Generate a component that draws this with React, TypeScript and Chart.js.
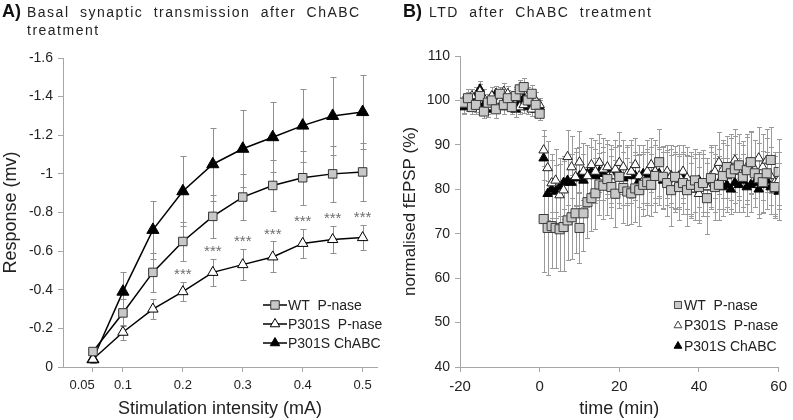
import React, { useEffect, useRef } from 'react';
import { Chart, registerables } from 'chart.js';

Chart.register(...registerables);

// ---------- Panel A data ----------
const A_INTENSITY = [0.05, 0.1, 0.15, 0.2, 0.25, 0.3, 0.35, 0.4, 0.45, 0.5];
const A_WT_PNASE = [-0.08, -0.28, -0.49, -0.65, -0.78, -0.88, -0.94, -0.98, -1.0, -1.01];
const A_WT_PNASE_ERR = [0.02, 0.07, 0.1, 0.1, 0.11, 0.12, 0.13, 0.14, 0.145, 0.15];
const A_P301S_PNASE = [-0.04, -0.18, -0.3, -0.39, -0.49, -0.53, -0.57, -0.64, -0.66, -0.67];
const A_P301S_PNASE_ERR = [0.02, 0.04, 0.05, 0.05, 0.07, 0.08, 0.08, 0.075, 0.07, 0.065];
const A_P301S_CHABC = [-0.04, -0.39, -0.71, -0.91, -1.05, -1.13, -1.19, -1.25, -1.3, -1.32];
const A_P301S_CHABC_ERR = [0.02, 0.1, 0.15, 0.18, 0.19, 0.2, 0.18, 0.19, 0.2, 0.19];
const A_STAR_X = [0.2, 0.25, 0.3, 0.35, 0.4, 0.45, 0.5];
const A_X_TICKS = [0.05, 0.1, 0.2, 0.3, 0.4, 0.5];
const A_X_TICK_LABELS = ['0.05', '0.1', '0.2', '0.3', '0.4', '0.5'];

// ---------- Panel B data ----------
const B_TIME = [
  -19, -18, -17, -16, -15, -14, -13, -12, -11, -10, -9, -8, -7, -6, -5, -4, -3, -2, -1, 0,
  1, 2, 3, 4, 5, 6, 7, 8, 9, 10, 11, 12, 13, 14, 15, 16, 17, 18, 19, 20,
  21, 22, 23, 24, 25, 26, 27, 28, 29, 30, 31, 32, 33, 34, 35, 36, 37, 38, 39, 40,
  41, 42, 43, 44, 45, 46, 47, 48, 49, 50, 51, 52, 53, 54, 55, 56, 57, 58, 59, 60,
];
const B_WT_PNASE = [
  99.5, 100.5, 98.5, 99, 101, 97.5, 99.5, 100, 98, 101.5, 99, 100.5, 98.5, 101, 102.5, 103, 100, 101.5, 99, 97,
  73.3, 71.3, 71.7, 71.3, 71, 71.5, 73, 73.7, 74.6, 71.3, 74.6, 77.1, 78, 79.1, 81.1, 80.8, 82.3, 80.5, 79, 82.8,
  80.3, 79.5, 79.1, 80.2, 79.8, 81, 81.6, 81, 83, 86.1, 82.8, 81.4, 79.8, 82.8, 80.5, 81.4, 79.8, 81, 82, 80.5,
  81.4, 78, 82.5, 80.5, 81, 83, 85, 83.6, 84.5, 85.4, 82.8, 84.3, 86.1, 83.6, 82.5, 81.6, 83.6, 86.6, 80.5, 83.9,
];
const B_WT_PNASE_ERR = [
  1.5, 2, 1.5, 2, 1.8, 1.5, 2, 1.7, 2, 1.5, 2, 1.8, 1.5, 2, 2.2, 2, 1.8, 2, 1.6, 1.5,
  12, 10.5, 9.5, 9, 9.5, 10, 9, 9.5, 9, 8, 8.5, 8, 7.5, 8, 7, 7.5, 8, 7, 7.5, 7,
  8, 7.5, 7, 7.5, 8, 7, 7.5, 7, 8, 7.5, 7, 7.5, 8, 7, 7.5, 7, 8, 7.5, 7, 8,
  7.5, 8, 7, 7.5, 8, 7.5, 7, 8, 7.5, 7, 8, 7.5, 7, 7.5, 8, 7, 8, 7.5, 7, 7.5,
];
const B_P301S_PNASE = [
  99, 100, 101, 99.5, 102, 100.5, 98.5, 101, 99, 100, 102, 101.5, 99, 100.5, 98.5, 99, 101, 98, 100, 99,
  88.8, 84.8, 81.4, 82, 78.7, 79.8, 87.3, 85, 82.8, 86.1, 84, 83, 85.5, 84, 86, 84.5, 85, 83, 84.5, 86,
  85, 83.5, 84, 85.5, 83, 82, 84, 85.5, 84, 83, 82.5, 84, 83, 81.5, 83, 84, 82.5, 81, 80, 79,
  81, 80.5, 83, 84, 86, 84.5, 83, 85, 86.5, 84, 83, 85, 86, 84.5, 87, 85, 86.5, 83, 81.5, 82,
];
const B_P301S_PNASE_ERR = [
  1.8, 2, 1.5, 2, 1.8, 2, 1.6, 2, 1.8, 1.5, 2, 1.8, 1.6, 2, 1.5, 1.8, 2, 1.6, 1.8, 1.5,
  4.5, 6, 6.5, 7, 7, 6.5, 6, 7, 6.5, 7, 6.5, 7, 6, 7, 6.5, 7, 6, 7, 6.5, 7,
  6, 6.5, 7, 6, 7, 6.5, 7, 6, 7, 6.5, 7, 6, 7, 6.5, 7, 6, 7, 6.5, 7, 6,
  7, 6.5, 7, 6, 7, 6.5, 7, 7.5, 7, 6.5, 7, 7.5, 7, 6.5, 7, 7.5, 7, 6.5, 7, 6.5,
];
const B_P301S_CHABC = [
  98.5, 99.5, 100, 101, 102.5, 99, 98, 100, 101.5, 99.5, 98.5, 100, 99, 98, 99.5, 100.5, 98.5, 99, 98, 98.5,
  87, 79, 80, 79.5, 80.5, 81.5, 82, 81.5, 82.5, 83, 82, 83.5, 84, 83, 84, 83.5, 84.5, 83, 84, 83.5,
  82.5, 83, 84, 83, 82, 83.5, 82.5, 83, 84, 83.5, 82, 82.5, 83, 82, 81.5, 82.5, 81, 80, 81.5, 82,
  81, 80.5, 82, 81, 81.5, 80.5, 81, 80, 81.5, 81, 82, 80.5, 81, 81.5, 80, 81, 82, 80.5, 80, 79.5,
];
const B_P301S_CHABC_ERR = [
  1.5, 1.8, 1.6, 2, 1.8, 1.5, 1.7, 2, 1.8, 1.5, 1.6, 1.8, 1.5, 1.7, 2, 1.8, 1.5, 1.6, 1.8, 1.5,
  5, 6, 6.5, 6, 6.5, 6, 5.5, 6.5, 6, 6.5, 6, 6.5, 5.5, 6, 6.5, 6, 6.5, 6, 5.5, 6.5,
  6, 6.5, 6, 5.5, 6, 6.5, 6, 6.5, 6, 5.5, 6.5, 6, 6, 6.5, 6, 5.5, 6.5, 6, 6.5, 6,
  6, 5.5, 6.5, 6, 6, 6.5, 6, 5.5, 6.5, 6, 6, 6.5, 6, 5.5, 6.5, 6, 6.5, 6, 6, 6.5,
];

const LEGEND_LABELS = ['WT  P-nase', 'P301S  P-nase', 'P301S ChABC'];

const FONT = '"Liberation Sans", Arial, Helvetica, sans-serif';
const AXIS_GREY = '#a6a6a6';
const TEXT = '#222222';
const SQUARE_FILL = '#c8c8c8';

function drawMarker(ctx: CanvasRenderingContext2D, style: string, x: number, y: number, r: number, fill: string, stroke: string) {
  ctx.beginPath();
  if (style === 'rect') {
    const s = Math.SQRT1_2 * r;
    ctx.rect(x - s, y - s, 2 * s, 2 * s);
  } else {
    ctx.moveTo(x, y - r);
    ctx.lineTo(x + 0.866 * r, y + 0.5 * r);
    ctx.lineTo(x - 0.866 * r, y + 0.5 * r);
    ctx.closePath();
  }
  ctx.fillStyle = fill;
  ctx.fill();
  ctx.lineWidth = 1;
  ctx.strokeStyle = stroke;
  ctx.stroke();
}

const errorBarPlugin = {
  id: 'errorBars',
  beforeDatasetsDraw(chart: any, _args: any, opts: any) {
    const { ctx, scales } = chart;
    const xS = scales.x;
    const yS = scales.y;
    ctx.save();
    ctx.strokeStyle = opts.color;
    ctx.lineWidth = 1;
    chart.data.datasets.forEach((ds: any) => {
      const errs = ds.errors;
      if (!errs) return;
      ds.data.forEach((p: any, j: number) => {
        const x = Math.round(xS.getPixelForValue(p.x)) + 0.5;
        const y1 = Math.round(yS.getPixelForValue(p.y - errs[j])) + 0.5;
        const y2 = Math.round(yS.getPixelForValue(p.y + errs[j])) + 0.5;
        const c = opts.cap;
        ctx.beginPath();
        ctx.moveTo(x, y1);
        ctx.lineTo(x, y2);
        ctx.moveTo(x - c, y1);
        ctx.lineTo(x + c, y1);
        ctx.moveTo(x - c, y2);
        ctx.lineTo(x + c, y2);
        ctx.stroke();
      });
    });
    ctx.restore();
  },
};

const starPlugin = {
  id: 'stars',
  afterDatasetsDraw(chart: any, _args: any, opts: any) {
    if (!opts || !opts.enabled) return;
    const { ctx, scales } = chart;
    const ds: any = chart.data.datasets[opts.datasetIndex];
    ctx.save();
    ctx.fillStyle = '#6e6e6e';
    ctx.font = `15px ${FONT}`;
    ctx.textAlign = 'center';
    ctx.textBaseline = 'middle';
    ds.data.forEach((p: any, j: number) => {
      if (!A_STAR_X.includes(p.x)) return;
      const x = scales.x.getPixelForValue(p.x);
      const y = scales.y.getPixelForValue(p.y - ds.errors[j]) - 7;
      ctx.fillText('***', x, y);
    });
    ctx.restore();
  },
};

const legendPlugin = {
  id: 'innerLegend',
  afterDraw(chart: any, _args: any, opts: any) {
    if (!opts || !opts.items) return;
    const ctx = chart.ctx;
    ctx.save();
    ctx.font = `${opts.fontSize}px ${FONT}`;
    ctx.textBaseline = 'middle';
    ctx.textAlign = 'left';
    opts.items.forEach((it: any, i: number) => {
      const y = opts.y + i * opts.rowGap;
      if (opts.line) {
        ctx.beginPath();
        ctx.strokeStyle = '#000';
        ctx.lineWidth = 1.5;
        ctx.moveTo(opts.x - opts.line, y);
        ctx.lineTo(opts.x + opts.line, y);
        ctx.stroke();
      }
      drawMarker(ctx, it.style, opts.x, y, it.r, it.fill, it.stroke);
      ctx.fillStyle = TEXT;
      ctx.fillText(it.label, opts.textX, y + 1);
    });
    ctx.restore();
  },
};

function toPoints(xs: number[], ys: number[]) {
  return xs.map((x, i) => ({ x, y: ys[i] }));
}

function ChartA() {
  const ref = useRef<HTMLCanvasElement>(null);
  useEffect(() => {
    const chart = new Chart(ref.current as HTMLCanvasElement, {
      type: 'line',
      data: {
        datasets: [
          {
            label: LEGEND_LABELS[0],
            data: toPoints(A_INTENSITY, A_WT_PNASE),
            errors: A_WT_PNASE_ERR,
            borderColor: '#000',
            borderWidth: 1.5,
            pointStyle: 'rect',
            pointRadius: 6,
            pointBackgroundColor: SQUARE_FILL,
            pointBorderColor: '#333',
            pointBorderWidth: 1,
          } as any,
          {
            label: LEGEND_LABELS[1],
            data: toPoints(A_INTENSITY, A_P301S_PNASE),
            errors: A_P301S_PNASE_ERR,
            borderColor: '#000',
            borderWidth: 1.5,
            pointStyle: 'triangle',
            pointRadius: 6,
            pointBackgroundColor: '#fff',
            pointBorderColor: '#000',
            pointBorderWidth: 1,
          } as any,
          {
            label: LEGEND_LABELS[2],
            data: toPoints(A_INTENSITY, A_P301S_CHABC),
            errors: A_P301S_CHABC_ERR,
            borderColor: '#000',
            borderWidth: 1.5,
            pointStyle: 'triangle',
            pointRadius: 7,
            pointBackgroundColor: '#000',
            pointBorderColor: '#000',
            pointBorderWidth: 1,
          } as any,
        ],
      },
      options: {
        animation: false,
        responsive: false,
        devicePixelRatio: 1,
        layout: { padding: { top: 58, right: 20, left: 0, bottom: 0 } },
        scales: {
          x: {
            type: 'linear',
            min: 0,
            max: 0.524,
            afterBuildTicks: (s: any) => {
              s.ticks = A_X_TICKS.map((v) => ({ value: v }));
            },
            afterFit: (s: any) => {
              s.height = 53;
            },
            grid: { drawOnChartArea: false, color: AXIS_GREY, tickLength: 5 },
            border: { color: AXIS_GREY },
            ticks: {
              autoSkip: false,
              maxRotation: 0,
              padding: 6,
              color: TEXT,
              font: { family: FONT, size: 13 },
              callback: (_v: any, i: number) => (i === 0 ? A_X_TICK_LABELS[i] + '      ' : A_X_TICK_LABELS[i]),
            },
            title: {
              display: true,
              text: 'Stimulation intensity (mA)',
              color: TEXT,
              font: { family: FONT, size: 18 },
              padding: { top: 0, bottom: 0 },
            },
          },
          y: {
            type: 'linear',
            reverse: true,
            min: -1.6,
            max: 0,
            afterFit: (s: any) => {
              s.width = 63;
            },
            grid: { drawOnChartArea: false, color: AXIS_GREY, tickLength: 5 },
            border: { color: AXIS_GREY },
            ticks: {
              stepSize: 0.2,
              padding: 5,
              color: TEXT,
              font: { family: FONT, size: 14 },
              callback: (v: any) => String(Math.round(Number(v) * 10) / 10),
            },
            title: {
              display: true,
              text: 'Response (mv)',
              color: TEXT,
              font: { family: FONT, size: 18 },
              padding: { top: 0, bottom: 0 },
            },
          },
        },
        plugins: {
          legend: { display: false },
          tooltip: { enabled: false },
          errorBars: { color: '#8f8f8f', cap: 3 },
          stars: { enabled: true, datasetIndex: 1 },
          innerLegend: {
            x: 275,
            y: 305,
            rowGap: 19,
            line: 12,
            textX: 288,
            fontSize: 14,
            items: [
              { label: LEGEND_LABELS[0], style: 'rect', r: 6, fill: SQUARE_FILL, stroke: '#333' },
              { label: LEGEND_LABELS[1], style: 'triangle', r: 5.5, fill: '#fff', stroke: '#000' },
              { label: LEGEND_LABELS[2], style: 'triangle', r: 5.5, fill: '#000', stroke: '#000' },
            ],
          },
        } as any,
      },
      plugins: [errorBarPlugin, starPlugin, legendPlugin],
    } as any);
    return () => chart.destroy();
  }, []);
  return <canvas ref={ref} width={397} height={420} style={{ position: 'absolute', left: 0, top: 0 }} />;
}

function ChartB() {
  const ref = useRef<HTMLCanvasElement>(null);
  useEffect(() => {
    const chart = new Chart(ref.current as HTMLCanvasElement, {
      type: 'scatter',
      data: {
        datasets: [
          {
            label: LEGEND_LABELS[0],
            data: toPoints(B_TIME, B_WT_PNASE),
            errors: B_WT_PNASE_ERR,
            pointStyle: 'rect',
            pointRadius: 6.4,
            pointBackgroundColor: SQUARE_FILL,
            pointBorderColor: '#3a3a3a',
            pointBorderWidth: 1,
          } as any,
          {
            label: LEGEND_LABELS[1],
            data: toPoints(B_TIME, B_P301S_PNASE),
            errors: B_P301S_PNASE_ERR,
            pointStyle: 'triangle',
            pointRadius: 5.5,
            pointBackgroundColor: '#fff',
            pointBorderColor: '#222',
            pointBorderWidth: 1,
          } as any,
          {
            label: LEGEND_LABELS[2],
            data: toPoints(B_TIME, B_P301S_CHABC),
            errors: B_P301S_CHABC_ERR,
            pointStyle: 'triangle',
            pointRadius: 5.5,
            pointBackgroundColor: '#000',
            pointBorderColor: '#000',
            pointBorderWidth: 1,
          } as any,
        ],
      },
      options: {
        animation: false,
        responsive: false,
        devicePixelRatio: 1,
        layout: { padding: { top: 56, right: 10, left: 0, bottom: 0 } },
        scales: {
          x: {
            type: 'linear',
            min: -20,
            max: 60,
            afterFit: (s: any) => {
              s.height = 53;
            },
            grid: { drawOnChartArea: false, color: AXIS_GREY, tickLength: 5 },
            border: { color: AXIS_GREY },
            ticks: {
              stepSize: 20,
              maxRotation: 0,
              padding: 6,
              color: TEXT,
              font: { family: FONT, size: 15 },
            },
            title: {
              display: true,
              text: 'time (min)',
              color: TEXT,
              font: { family: FONT, size: 18 },
              padding: { top: 0, bottom: 0 },
            },
          },
          y: {
            type: 'linear',
            min: 40,
            max: 110,
            afterFit: (s: any) => {
              s.width = 63;
            },
            grid: { drawOnChartArea: false, color: AXIS_GREY, tickLength: 5 },
            border: { color: AXIS_GREY },
            ticks: {
              stepSize: 10,
              padding: 5,
              color: TEXT,
              font: { family: FONT, size: 14 },
            },
            title: {
              display: true,
              text: 'normalised fEPSP (%)',
              color: TEXT,
              font: { family: FONT, size: 17 },
              padding: { top: 3, bottom: 0 },
            },
          },
        },
        plugins: {
          legend: { display: false },
          tooltip: { enabled: false },
          errorBars: { color: '#9a9a9a', cap: 2.5 },
          innerLegend: {
            x: 281,
            y: 305,
            rowGap: 20.5,
            line: 0,
            textX: 287,
            fontSize: 14,
            items: [
              { label: LEGEND_LABELS[0], style: 'rect', r: 5, fill: SQUARE_FILL, stroke: '#444' },
              { label: LEGEND_LABELS[1], style: 'triangle', r: 4.5, fill: '#fff', stroke: '#444' },
              { label: LEGEND_LABELS[2], style: 'triangle', r: 4.5, fill: '#000', stroke: '#000' },
            ],
          },
        } as any,
      },
      plugins: [errorBarPlugin, legendPlugin],
    } as any);
    return () => chart.destroy();
  }, []);
  return <canvas ref={ref} width={396} height={420} style={{ position: 'absolute', left: 397, top: 0 }} />;
}

const titleStyle: React.CSSProperties = {
  position: 'absolute',
  fontFamily: FONT,
  fontSize: 14,
  letterSpacing: '1.5px',
  wordSpacing: '5px',
  lineHeight: '18px',
  color: TEXT,
  whiteSpace: 'nowrap',
};
const letterStyle: React.CSSProperties = {
  position: 'absolute',
  fontFamily: FONT,
  fontSize: 18,
  fontWeight: 'bold',
  lineHeight: '20px',
  color: '#111',
};

export default function App() {
  return (
    <div style={{ position: 'absolute', left: 0, top: 0, width: 793, height: 420, background: '#fff', overflow: 'hidden' }}>
      <ChartA />
      <ChartB />
      <div style={{ ...letterStyle, left: 2, top: 1 }}>A)</div>
      <div style={{ ...titleStyle, left: 27, top: 3 }}>
        Basal synaptic transmission after ChABC
        <br />
        treatment
      </div>
      <div style={{ ...letterStyle, left: 403, top: 1 }}>B)</div>
      <div style={{ ...titleStyle, left: 429, top: 3 }}>LTD after ChABC treatment</div>
    </div>
  );
}
